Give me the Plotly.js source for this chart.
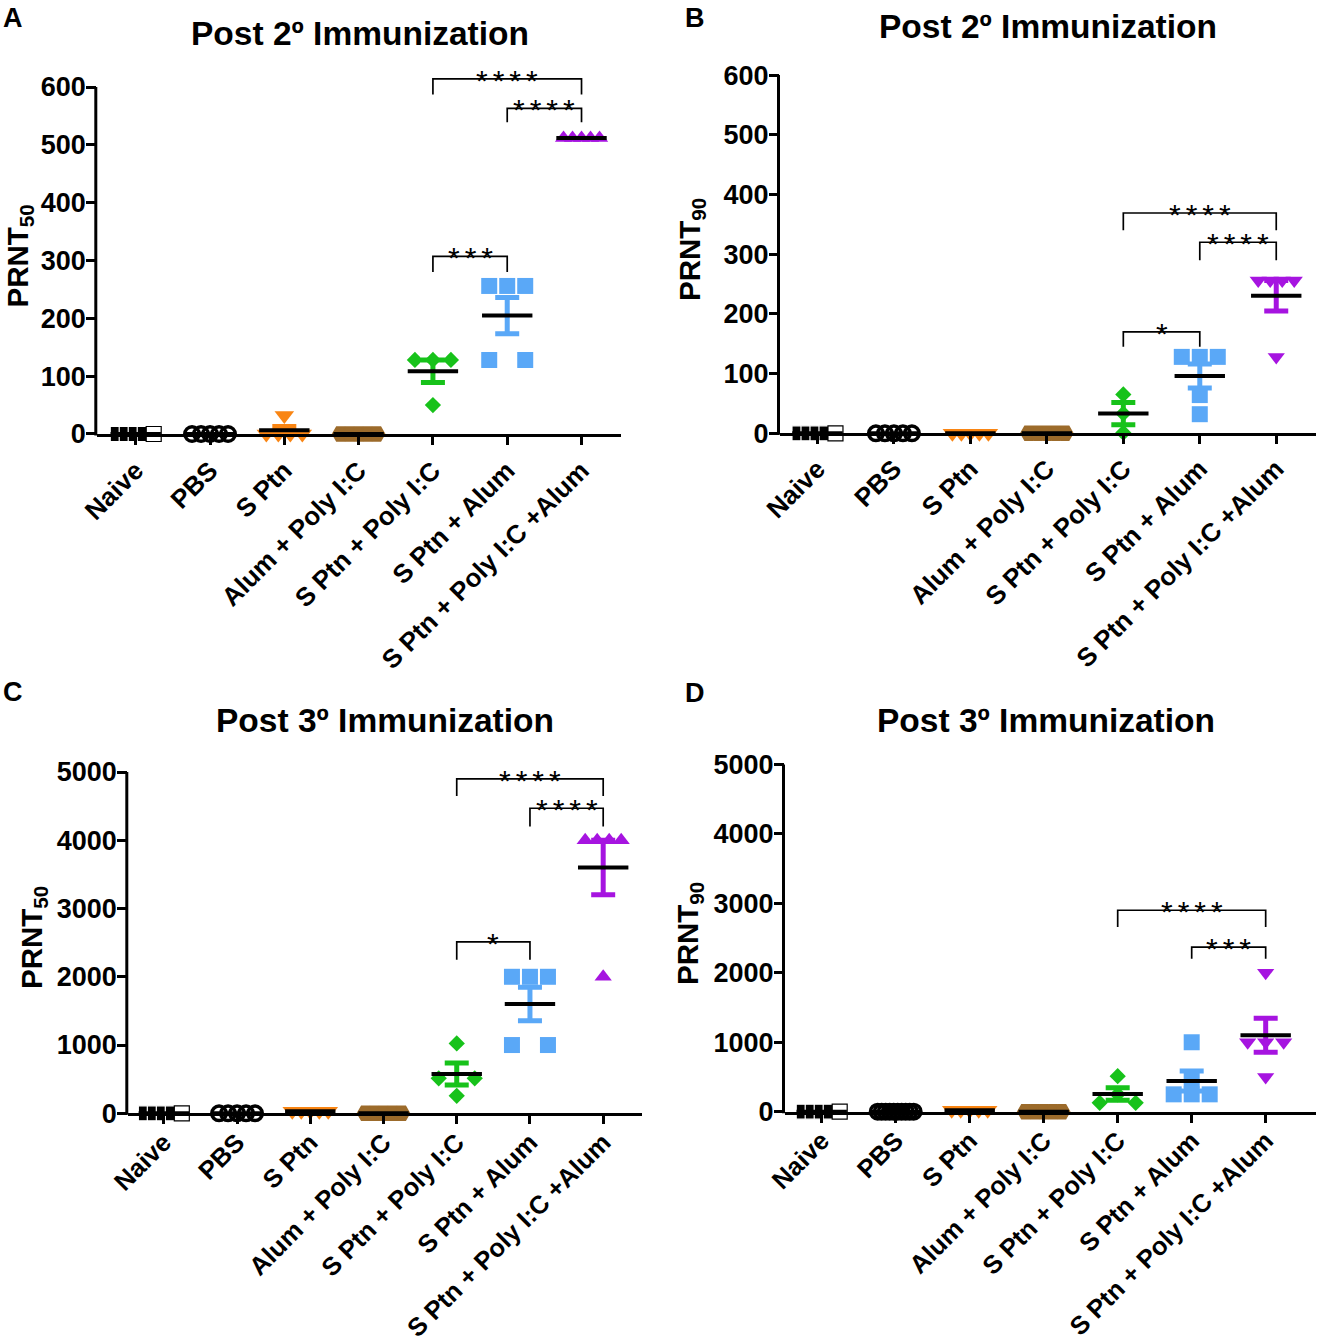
<!DOCTYPE html>
<html>
<head>
<meta charset="utf-8">
<script src="https://cdn.plot.ly/plotly-3.0.1.min.js"></script>
<style>html,body{margin:0;padding:0;background:#fff}#chart{width:1317px;height:1341px}</style>
</head>
<body>
<div id="chart"></div>
<script>
// ---------------- DATA ----------------
const groups = ['Naive', 'PBS', 'S Ptn', 'Alum + Poly I:C', 'S Ptn + Poly I:C', 'S Ptn + Alum', 'S Ptn + Poly I:C +Alum'];

// PRNT titers per mouse, one array per group (same order as groups)
const post2PRNT50 = [[0,0,0,0,0],[0,0,0,0,0],[32,0,0,0,0],[0,0,0,0,0],[128,128,128,50],[256,256,256,128,128],[512,512,512,512,512]];
const post2PRNT90 = [[0,0,0,0,0],[0,0,0,0,0],[0,0,0,0,0],[0,0,0,0,0],[65,33,1],[128,128,128,64,32],[256,256,256,256,128]];
const post3PRNT50 = [[0,0,0,0,0],[0,0,0,0,0],[30,30,30,30,30],[0,0,0,0,0],[1024,512,512,256],[2000,2000,2000,1000,1000],[4000,4000,4000,4000,2000]];
const post3PRNT90 = [[0,0,0,0,0],[0,0,0,0,0,0,0,0,0,0],[20,20,20,20,20],[0,0,0,0,0],[512,250,128,128],[1000,250,250,250,460],[2000,1000,1000,1000,500]];

const ticks600 = [0,100,200,300,400,500,600];
const ticks5000 = [0,1000,2000,3000,4000,5000];

// significance comparisons: [groupA, groupB, label]
const sigA = [[4,5,'***'],[5,6,'****'],[4,6,'****']];
const sigB = [[4,5,'*'],[5,6,'****'],[4,6,'****']];
const sigC = [[4,5,'*'],[5,6,'****'],[4,6,'****']];
const sigD = [[5,6,'***'],[4,6,'****']];

// ---------------- STYLE / LAYOUT ----------------
const W = 1317, H = 1341;
const FONT = 'Arial, "Liberation Sans", Helvetica, sans-serif';
const colors = ['#000000','#000000','#F98513','#9C6B2B','#17C21A','#5AA8F7','#A614E0'];
const baseSymbols = ['square','circle-open','triangle-down','hexagon2','diamond','square',null];
const sizes = [15,14.5,17,16,12.5,16,15];

const panels = [
  {data: post2PRNT50, ticks: ticks600, sig: sigA, levels: [[307,280],[563,539],[614,587]],
   xPx:[97.3,621.2], xRange:[-0.517,6.534], y0Px:434, ppu:0.5783, yTop:650, purple:'triangle-up', labelGap:8, xFont:26,
   title:'Post 2º Immunization', titleXY:[360,33], letter:'A', letterXY:[1,18],
   ytitle:'PRNT<sub>50</sub>', ytitleXY:[19.5,256]},
  {data: post2PRNT90, ticks: ticks600, sig: sigB, levels: [[170,145],[320,290],[369,340]],
   xPx:[780,1316], xRange:[-0.49,6.52], y0Px:433.3, ppu:0.597, yTop:600, purple:'triangle-down', labelGap:7, xFont:26,
   title:'Post 2º Immunization', titleXY:[1048,27], letter:'B', letterXY:[683,18],
   ytitle:'PRNT<sub>90</sub>', ytitleXY:[691,250]},
  {data: post3PRNT50, ticks: ticks5000, sig: sigC, levels: [[2510,2251],[4469,4201],[4898,4649]],
   xPx:[128.3,642], xRange:[-0.485,6.53], y0Px:1113.3, ppu:0.06826, yTop:5000, purple:'triangle-up', labelGap:1, xFont:25.5,
   title:'Post 3º Immunization', titleXY:[385,720], letter:'C', letterXY:[1,692],
   ytitle:'PRNT<sub>50</sub>', ytitleXY:[33,938]},
  {data: post3PRNT90, ticks: ticks5000, sig: sigD, levels: [[2371,2203],[2901,2659]],
   xPx:[785,1316], xRange:[-0.496,6.68], y0Px:1111.7, ppu:0.06944, yTop:5000, purple:'triangle-down', labelGap:1, xFont:25.5,
   title:'Post 3º Immunization', titleXY:[1046,720], letter:'D', letterXY:[683,693],
   ytitle:'PRNT<sub>90</sub>', ytitleXY:[689,934]}
];

const SPREAD = 18; // half width (px) of a row of equal values

function mean(a){ return a.reduce((s,v)=>s+v,0)/a.length; }
function sem(a){
  if (a.length < 2) return 0;
  const m = mean(a);
  const v = a.reduce((s,x)=>s+(x-m)*(x-m),0)/(a.length-1);
  return Math.sqrt(v/a.length);
}
// horizontal slot (px) for each point: equal values spread side by side
function slots(vals){
  const out = new Array(vals.length).fill(0);
  const seen = {};
  vals.forEach((v,i)=>{ (seen[v] = seen[v] || []).push(i); });
  Object.values(seen).forEach(idx=>{
    const n = idx.length;
    if (n === 1) return;
    idx.forEach((pi,k)=>{ out[pi] = -SPREAD + k*(2*SPREAD)/(n-1); });
  });
  return out;
}

const traces = [];
const layout = {
  width: W, height: H, margin:{l:0,r:0,t:0,b:0},
  paper_bgcolor:'#fff', plot_bgcolor:'#fff', showlegend:false,
  shapes: [], annotations: []
};

panels.forEach((p, pi)=>{
  const ax = pi === 0 ? '' : String(pi+1);
  const xa = 'x'+ax, ya = 'y'+ax;
  const tickAx = String(pi+5);
  const pxPerCat = (p.xPx[1]-p.xPx[0])/(p.xRange[1]-p.xRange[0]);
  const yTopPx = p.y0Px - p.yTop*p.ppu;
  const tickFont = {family: FONT, size: 27, color:'#000', weight:'bold'};
  const xTickFont = {family: FONT, size: p.xFont, color:'#000', weight:'bold'};
  const catVals = groups.map((g,i)=>i);

  // category labels (tick marks hidden here, drawn by the overlay axis below)
  layout['xaxis'+ax] = {
    domain:[p.xPx[0]/W, p.xPx[1]/W], range:p.xRange, anchor: ya,
    tickmode:'array', tickvals: catVals, ticktext: groups,
    tickangle:-45, ticks:'outside', ticklen:p.labelGap, tickwidth:1, tickcolor:'rgba(0,0,0,0)',
    showline:true, linewidth:3, linecolor:'#000', showgrid:false, zeroline:false,
    tickfont: xTickFont, fixedrange:true
  };
  // overlay axis for the x tick marks
  layout['xaxis'+tickAx] = {
    overlaying: xa, anchor: ya, range:p.xRange, side:'bottom',
    tickmode:'array', tickvals: catVals, showticklabels:false,
    ticks:'outside', ticklen:10, tickwidth:3, tickcolor:'#000',
    showline:false, showgrid:false, zeroline:false, fixedrange:true
  };
  traces.push({type:'scatter', mode:'markers', x:[], y:[], xaxis:'x'+tickAx, yaxis:ya, hoverinfo:'skip'});

  layout['yaxis'+ax] = {
    domain:[1 - p.y0Px/H, 1 - yTopPx/H], range:[0, p.yTop], anchor: xa,
    tickmode:'array', tickvals:p.ticks, ticktext:p.ticks.map(String),
    ticks:'outside', ticklen:5, tickwidth:1, tickcolor:'rgba(0,0,0,0)',
    showline:false, showgrid:false, zeroline:false, tickfont: tickFont, fixedrange:true
  };
  // overlay axis for the y tick marks
  layout['yaxis'+tickAx] = {
    overlaying: ya, anchor: xa, range:[0, p.yTop], side:'left',
    tickmode:'array', tickvals:p.ticks, showticklabels:false,
    ticks:'outside', ticklen:10, tickwidth:3, tickcolor:'#000',
    showline:false, showgrid:false, zeroline:false, fixedrange:true
  };
  traces.push({type:'scatter', mode:'markers', x:[], y:[], xaxis:xa, yaxis:'y'+tickAx, hoverinfo:'skip'});

  // y axis line up to the last tick
  const maxTick = p.ticks[p.ticks.length-1];
  layout.shapes.push({type:'line', xref:'paper', yref:'paper',
    x0:(p.xPx[0]-1.5)/W, x1:(p.xPx[0]-1.5)/W,
    y0:1 - (p.y0Px+1.5)/H, y1:1 - (p.y0Px - maxTick*p.ppu)/H,
    line:{color:'#000', width:3}});

  // points and mean ± SEM
  p.data.forEach((vals, gi)=>{
    const off = slots(vals).map(o=>o/pxPerCat);
    const symbol = gi === 6 ? p.purple : baseSymbols[gi];
    let marker;
    if (gi === 0) {
      marker = {symbol:'square', size:sizes[gi],
        color: vals.map((v,i)=> i===vals.length-1 ? '#fff' : '#000'),
        line:{color: vals.map((v,i)=> i===vals.length-1 ? '#000' : '#fff'), width: 1.2}};
    } else if (gi === 1) {
      marker = {symbol:'circle-open', size:sizes[gi], color:'#000', line:{width:3.5, color:'#000'}};
    } else if (gi === 3) {
      marker = {symbol:symbol, size:sizes[gi], color:colors[gi], line:{width:1.5, color:colors[gi]}};
    } else {
      marker = {symbol:symbol, size:sizes[gi], color:colors[gi], line:{width:0}};
    }
    traces.push({type:'scatter', mode:'markers', xaxis:xa, yaxis:ya, cliponaxis:false,
      x: vals.map((v,i)=>gi + off[i]), y: vals, marker: marker, hoverinfo:'y'});
    const m = mean(vals), s = sem(vals);
    traces.push({type:'scatter', mode:'markers', xaxis:xa, yaxis:ya, cliponaxis:false,
      x:[gi], y:[m],
      marker:{symbol:'line-ew-open', size:36, color:'#000', line:{width:4, color:'#000'}},
      error_y:{type:'data', array:[s], visible: s > 0, color: colors[gi], thickness:5, width:12},
      hoverinfo:'y'});
  });

  // significance brackets
  p.sig.forEach((c, ci)=>{
    const [a, b, lab] = c;
    const [top, leg] = p.levels[ci];
    layout.shapes.push({type:'path', xref:xa, yref:ya,
      path:`M ${a},${leg} L ${a},${top} L ${b},${top} L ${b},${leg}`,
      line:{color:'#000', width:1.7}});
    layout.annotations.push({xref:xa, yref:ya, x:(a+b)/2, y:top, yanchor:'bottom', xanchor:'center',
      yshift:-20, showarrow:false, text: lab.split('').join('\u2006'),
      font:{family:FONT, size:30, color:'#000'}});
  });

  // titles and labels
  layout.annotations.push({xref:'paper', yref:'paper', x:p.titleXY[0]/W, y:1-p.titleXY[1]/H,
    xanchor:'center', yanchor:'middle', showarrow:false, text:p.title,
    font:{family:FONT, size:33.5, color:'#000', weight:'bold'}});
  layout.annotations.push({xref:'paper', yref:'paper', x:p.letterXY[0]/W, y:1-p.letterXY[1]/H,
    xanchor:'left', yanchor:'middle', showarrow:false, text:p.letter,
    font:{family:FONT, size:27, color:'#000', weight:'bold'}});
  layout.annotations.push({xref:'paper', yref:'paper', x:p.ytitleXY[0]/W, y:1-p.ytitleXY[1]/H,
    xanchor:'center', yanchor:'middle', showarrow:false, textangle:-90, text:p.ytitle,
    font:{family:FONT, size:29.5, color:'#000', weight:'bold'}});
});

Plotly.newPlot('chart', traces, layout, {staticPlot:true, displayModeBar:false});
</script>
</body>
</html>
